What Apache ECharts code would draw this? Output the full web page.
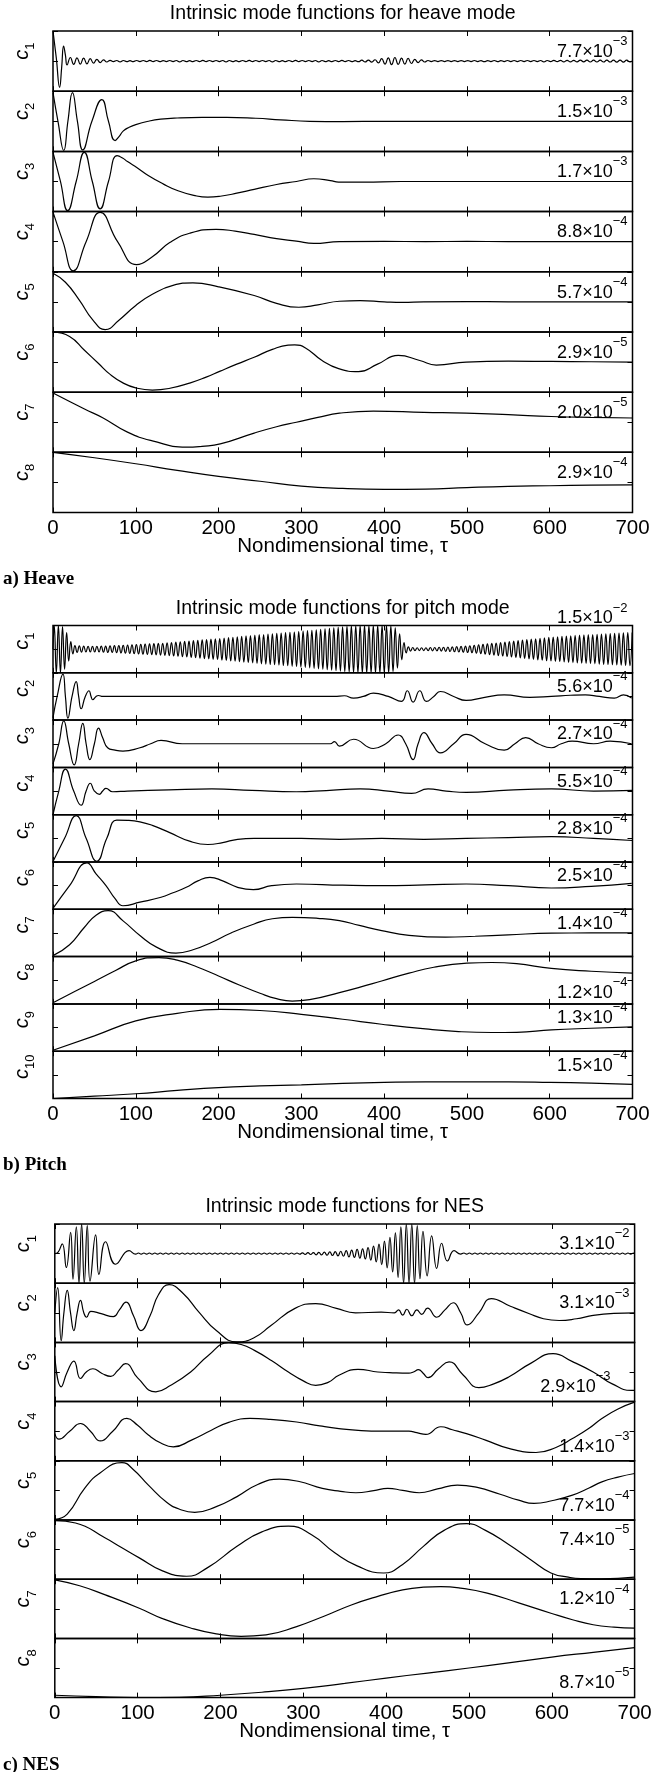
<!DOCTYPE html>
<html>
<head>
<meta charset="utf-8">
<script src="https://cdn.jsdelivr.net/npm/echarts@6/dist/echarts.min.js"></script>
<style>
  html, body { margin: 0; padding: 0; background: #fff; }
  #chart { width: 665px; height: 1772px; }
</style>
</head>
<body>
<div id="chart"></div>
<script>
// ---------------------------------------------------------------------------
// Intrinsic mode functions c_k(τ) for heave, pitch and NES responses.
// Every curve is stored in units of its own row scale (±1 = the scale value
// printed in the row), as [τ, value] pairs; dense oscillations are stored as
// successive extrema taken at a fixed τ spacing.
// ---------------------------------------------------------------------------

const tauMin = 0, tauMax = 700, tauStep = 100;

// ---- row scales (half height of each row) ----
const heaveScale = [7.7e-3, 1.5e-3, 1.7e-3, 8.8e-4, 5.7e-4, 2.9e-5, 2.0e-5, 2.9e-4];
const pitchScale = [1.5e-2, 5.6e-4, 2.7e-4, 5.5e-4, 2.8e-4, 2.5e-4, 1.4e-4, 1.2e-4, 1.3e-4, 1.5e-4];
const nesScale   = [3.1e-2, 3.1e-3, 2.9e-3, 1.4e-3, 7.7e-4, 7.4e-5, 1.2e-4, 8.7e-5];

// ---- heave ----
const heaveC1Head = [[0,1],[4,0.1],[8,-0.87],[10.5,-0.2],[12.8,0.5],[15,0.2],[17,-0.13]];
const heaveC1RippleStart = 21, heaveC1RippleStep = 4;
const heaveC1Ripple = [
  0.12,-0.11,0.11,-0.1,0.1,-0.09,0.08,-0.07,0.06,-0.05,0.04,-0.03,
  0.025,-0.02,0.02,-0.025,0.02,-0.02,0.015,-0.02,0.02,-0.015,
  0.02,-0.02,0.025,-0.02,0.02,-0.02,0.015,-0.015,0.02,-0.02,
  0.02,-0.025,0.02,-0.02,0.015,-0.02,0.02,-0.02,0.025,-0.02,
  0.02,-0.015,0.02,-0.02,0.02,-0.025,0.02,-0.02,0.015,-0.02,
  0.02,-0.02,0.025,-0.02,0.02,-0.015,0.02,-0.02,0.02,-0.025,
  0.02,-0.02,0.015,-0.02,0.02,-0.02,0.025,-0.02,0.02,-0.015,
  0.02,-0.02,0.02,-0.025,0.02,-0.02,0.015,-0.02,0.02,-0.02,
  0.025,-0.02,0.02,-0.02,0.015,-0.02,0.03,-0.03,0.035,-0.035,
  0.045,-0.06,0.08,-0.1,0.11,-0.12,0.12,-0.11,0.1,-0.1,0.09,-0.08,0.06,-0.05,0.04,-0.03,0.02,-0.015,
  0.015,-0.015,0.015,-0.015,0.015,-0.015,0.015,-0.015,0.015,-0.015,
  0.015,-0.015,0.02,-0.015,0.015,-0.02,0.015,-0.015,0.02,-0.02,
  0.015,-0.015,0.02,-0.02,0.02,-0.015,0.02,-0.02,0.02,-0.02,
  0.02,-0.02,0.02,-0.025,0.02,-0.02,0.025,-0.02,0.025,-0.025,
  0.025,-0.025,0.025,-0.025,0.03,-0.025,0.03,-0.03,0.03,-0.03,
  0.03,-0.03,0.035,-0.03,0.035,-0.035,0.035,-0.035,0.03,-0.03
];
const heaveC2 = [[0,0.95],[6,0],[13,-0.97],[18,0],[23.5,0.95],[29.5,0],[36,-0.95],[47,0],[59,0.72],[67,0],[75,-0.64],[80,-0.5],[85,-0.32],[92,-0.2],[100,-0.11],[115,0],[130,0.07],[150,0.11],[180,0.13],[210,0.13],[245,0.1],[275,0.05],[310,0],[350,-0.01],[400,0],[450,0],[500,0],[550,0],[600,0],[650,0],[700,0]];
const heaveC3 = [[0,0.97],[9,0],[17.7,-0.97],[28,0],[37.8,0.97],[47.5,0],[57,-0.91],[67,0],[77.5,0.86],[84,0.78],[90,0.66],[102,0.45],[115,0.2],[133,-0.08],[151,-0.31],[170,-0.46],[187,-0.52],[202,-0.49],[222,-0.39],[243,-0.26],[270,-0.1],[294,0],[315,0.09],[335,0.03],[345,-0.02],[376,-0.02],[420,0],[500,0],[600,0],[700,0]];
const heaveC4 = [[0,0.98],[12,0],[24.5,-0.97],[40,0],[57,0.97],[78,0],[101,-0.76],[120,-0.5],[141,-0.03],[165,0.28],[197,0.41],[220,0.35],[243,0.24],[270,0.1],[294,0.02],[315,-0.06],[346,0],[400,0.01],[450,0],[500,0.01],[550,0],[600,0],[700,0]];
const heaveC5 = [[0,0.95],[15,0.65],[32,0.05],[48,-0.6],[63,-0.92],[80,-0.6],[100,-0.12],[120,0.25],[145,0.55],[169,0.63],[200,0.5],[243,0.21],[270,-0.05],[297,-0.18],[320,-0.1],[346,0.02],[371,0.04],[400,0],[422,-0.02],[448,0],[500,0.01],[550,0],[600,0],[650,0],[700,0]];
const heaveC6 = [[0,1],[20,0.85],[38,0.39],[55,-0.05],[69,-0.41],[85,-0.7],[100,-0.86],[120,-0.93],[140,-0.88],[166,-0.69],[185,-0.5],[202,-0.3],[222,-0.07],[243,0.16],[265,0.42],[284,0.56],[292,0.57],[305,0.47],[325,0.05],[345,-0.22],[369,-0.32],[392,-0.07],[417,0.22],[443,0.05],[463,-0.1],[499,0],[550,0.03],[602,0.02],[650,0.01],[700,0]];
const heaveC7 = [[0,0.97],[38,0.44],[60,0.15],[90,-0.33],[120,-0.62],[161,-0.83],[180,-0.8],[202,-0.72],[243,-0.36],[270,-0.15],[294,0],[320,0.16],[346,0.3],[387,0.37],[448,0.33],[499,0.3],[550,0.25],[602,0.19],[650,0.16],[700,0.14]];
const heaveC8 = [[0,1],[50,0.82],[100,0.62],[150,0.4],[200,0.2],[250,0.04],[300,-0.12],[350,-0.2],[400,-0.23],[450,-0.22],[500,-0.17],[550,-0.13],[600,-0.11],[650,-0.09],[700,-0.08]];

// ---- pitch ----
const pitchC1Head = [[0,0],[1.5,1],[4,-1],[6.5,1],[9,-1],[11.5,0.95],[14,-0.85],[16.5,0.7],[19,-0.5],[21.5,0.32],[24,-0.2]];
const pitchC1RippleStart = 26.5, pitchC1RippleStep = 2.65;
const pitchC1Ripple = [
  0.15,-0.14,0.14,-0.13,0.13,-0.12,0.12,-0.12,0.12,-0.12,
  0.12,-0.12,0.13,-0.13,0.13,-0.14,0.14,-0.14,0.15,-0.15,
  0.15,-0.16,0.16,-0.17,0.17,-0.18,0.18,-0.19,0.19,-0.2,
  0.2,-0.21,0.21,-0.22,0.22,-0.23,0.23,-0.24,0.24,-0.25,
  0.25,-0.26,0.27,-0.27,0.28,-0.29,0.3,-0.3,0.31,-0.32,
  0.33,-0.33,0.34,-0.35,0.36,-0.36,0.37,-0.38,0.39,-0.4,
  0.4,-0.41,0.42,-0.43,0.44,-0.44,0.45,-0.46,0.47,-0.48,
  0.49,-0.5,0.5,-0.51,0.52,-0.53,0.54,-0.55,0.56,-0.57,
  0.57,-0.58,0.59,-0.6,0.61,-0.62,0.62,-0.63,0.64,-0.65,
  0.65,-0.66,0.67,-0.67,0.68,-0.69,0.7,-0.7,0.71,-0.72,
  0.72,-0.73,0.74,-0.75,0.76,-0.77,0.78,-0.79,0.8,-0.81,
  0.82,-0.83,0.84,-0.85,0.86,-0.87,0.88,-0.89,0.9,-0.91,
  0.92,-0.93,0.94,-0.95,0.96,-0.97,0.98,-0.98,0.99,-0.99,
  1,-1,1,-1,1,-1,1,-1,1,-1,
  1,-1,1,-1,0.98,-0.95,0.9,-0.8,0.65,-0.45,
  0.28,-0.16,0.1,-0.08,0.07,-0.06,0.06,-0.06,0.06,-0.06,
  0.06,-0.06,0.07,-0.07,0.07,-0.07,0.08,-0.08,0.08,-0.09,
  0.09,-0.1,0.1,-0.11,0.11,-0.12,0.12,-0.13,0.13,-0.14,
  0.14,-0.15,0.16,-0.17,0.18,-0.19,0.2,-0.21,0.22,-0.23,
  0.24,-0.25,0.26,-0.27,0.28,-0.29,0.3,-0.31,0.32,-0.33,
  0.34,-0.35,0.36,-0.37,0.38,-0.39,0.4,-0.41,0.42,-0.43,
  0.44,-0.45,0.46,-0.47,0.48,-0.49,0.5,-0.5,0.51,-0.52,
  0.52,-0.53,0.54,-0.54,0.55,-0.56,0.56,-0.57,0.58,-0.58,
  0.59,-0.59,0.6,-0.6,0.61,-0.61,0.62,-0.62,0.63,-0.63,
  0.64,-0.64,0.65,-0.65,0.66,-0.66,0.67,-0.67,0.68,-0.68,
  0.69,-0.69,0.7,-0.7,0.7
];
const pitchC2 = [[0,-0.9],[5,0],[12,0.94],[15,0],[18,-0.92],[23,0],[28,0.63],[31,0],[34,-0.52],[39,0],[43.5,0.24],[46,0],[48,-0.14],[52,0],[55,0.04],[60,0],[100,0],[200,0],[300,0],[340,0],[352,0.03],[363,-0.07],[375,0],[387,0.14],[405,0],[421,-0.21],[428,0.24],[435,-0.24],[443,0.24],[451,-0.21],[460,0],[468,0.21],[484,0],[499,-0.17],[520,-0.05],[545,0.07],[576,-0.04],[602,0],[625,0.05],[643,0.07],[660,0],[678,-0.07],[689,0.07],[699,-0.07]];
const pitchC3 = [[0,-0.85],[7,0],[13,0.97],[19,0],[25.6,-0.89],[31,0],[36,0.86],[40,0],[44.5,-0.67],[50,0],[55,0.66],[60,0.25],[66,-0.17],[75,-0.27],[84.5,-0.31],[105,-0.17],[118,0],[130.5,0.14],[156,0],[200,0],[250,0],[300,0],[335,0],[340,0.09],[346,-0.1],[363,0.19],[387,-0.2],[402,0],[417,0.37],[426,0],[435,-0.67],[441,0],[448,0.47],[458,0],[468,-0.39],[484,0],[499,0.4],[522,0],[545,-0.27],[558,0],[571,0.26],[586,0],[602,-0.17],[614,0],[627,0.11],[653,0],[673,0.11],[699,0]];
const pitchC4 = [[0,-1],[7,0],[15,0.93],[25,0],[34,-0.6],[40,0],[45,0.33],[50,0],[56,-0.14],[60,0],[64,0.11],[72,-0.03],[90,0],[140,0.05],[192,0.09],[240,0.03],[294,-0.03],[330,0.02],[371,0.09],[405,0],[433,-0.1],[453,0.09],[475,0],[499,-0.06],[550,0.04],[602,0.09],[653,0],[700,0.03]];
const pitchC5 = [[0,-0.98],[14,0],[28,0.96],[40,0],[53,-0.97],[65,0],[77,0.77],[90,0.76],[105,0.7],[120,0.55],[141,0.24],[165,-0.12],[187,-0.26],[205,-0.18],[223,-0.04],[243,0],[300,0],[346,-0.04],[397,0],[448,-0.04],[499,0],[550,0.03],[602,0.07],[653,0],[700,-0.09]];
const pitchC6 = [[0,-0.96],[20,0],[41,0.96],[52,0.5],[64,0],[75,-0.55],[84.5,-0.85],[105,-0.7],[130.5,-0.49],[145,-0.3],[161,-0.07],[175,0.2],[189.5,0.35],[205,0.2],[223,-0.07],[242,-0.17],[264,0],[294,0.07],[350,0.02],[397,0],[450,0.03],[499,0.07],[550,0],[602,-0.1],[650,-0.03],[699,0.1]];
const pitchC7 = [[0,-0.96],[20,-0.5],[38,0.24],[52,0.75],[66.5,0.94],[85,0.5],[105,-0.11],[125,-0.6],[148.5,-0.85],[170,-0.7],[192,-0.39],[215,0],[243,0.38],[265,0.6],[289,0.66],[320,0.62],[346,0.52],[370,0.32],[397,0.1],[430,-0.1],[474,-0.18],[510,-0.14],[550,-0.08],[602,-0.01],[650,0],[700,0]];
const pitchC8 = [[0,-0.95],[25,-0.5],[50,-0.05],[75,0.4],[100,0.82],[128,0.96],[150,0.85],[175,0.55],[200,0.18],[225,-0.2],[250,-0.55],[270,-0.78],[289,-0.88],[310,-0.82],[346,-0.52],[370,-0.3],[397,-0.03],[430,0.3],[460,0.55],[500,0.72],[530,0.75],[560,0.7],[602,0.5],[650,0.38],[700,0.3]];
const pitchC9 = [[0,-0.96],[50,-0.35],[100,0.28],[150,0.6],[202,0.77],[250,0.72],[300,0.56],[350,0.35],[397,0.14],[450,-0.06],[490,-0.17],[530,-0.21],[560,-0.2],[602,-0.1],[650,-0.03],[700,0.03]];
const pitchC10 = [[0,-1],[50,-0.9],[100,-0.8],[150,-0.66],[200,-0.54],[250,-0.47],[300,-0.42],[350,-0.36],[400,-0.32],[450,-0.3],[500,-0.3],[550,-0.3],[600,-0.32],[650,-0.35],[700,-0.4]];

// ---- NES ----
const nesC1Head = [[0,0],[4,0.05],[9,0.33],[13.9,-0.47],[19.1,0.72],[22,-0.86],[26,0.9],[29.2,-1],[32.4,1],[35.6,-1],[39.2,0.95],[42.5,-0.93],[49.3,0.63],[53.3,-0.7],[61.3,0.4],[73.4,-0.36],[89.6,0.1],[97.6,-0.02]];
const nesC1BurstStart = 101, nesC1BurstStep = 3.3;
const nesC1Burst = [
  0.02,-0.02,0.02,-0.02,0.02,-0.02,0.02,-0.02,0.02,-0.02,
  0.02,-0.02,0.02,-0.02,0.02,-0.02,0.02,-0.02,0.02,-0.02,
  0.02,-0.02,0.02,-0.02,0.02,-0.02,0.02,-0.02,0.02,-0.02,
  0.02,-0.02,0.02,-0.02,0.02,-0.02,0.02,-0.02,0.02,-0.02,
  0.02,-0.02,0.02,-0.02,0.02,-0.02,0.02,-0.02,0.02,-0.02,
  0.02,-0.02,0.02,-0.02,0.02,-0.02,0.02,-0.02,
  0.02,-0.02,0.025,-0.025,0.03,-0.03,0.035,-0.04,0.04,-0.045,
  0.05,-0.055,0.06,-0.065,0.07,-0.075,0.08,-0.09,0.1,-0.11,
  0.12,-0.13,0.14,-0.15,0.16,-0.18,0.2,-0.22,0.25,-0.28,
  0.32,-0.37,0.42,-0.48,0.55,-0.62,0.7,-0.8,0.9,-1,
  1,-1,1,-1,0.95,-0.85
];
const nesC1Decay = [[444.5,0.75],[449.5,-0.75],[455,0.6],[461,-0.5],[467,0.35],[474,-0.25],[482,0.1],[490,-0.02]];
const nesC1TailStart = 494, nesC1TailStep = 3.3;
const nesC1Tail = [
  0.02,-0.02,0.02,-0.02,0.02,-0.02,0.02,-0.02,0.02,-0.02,
  0.02,-0.02,0.02,-0.02,0.02,-0.02,0.02,-0.02,0.02,-0.02,
  0.02,-0.02,0.02,-0.02,0.02,-0.02,0.02,-0.02,0.02,-0.02,
  0.02,-0.02,0.02,-0.02,0.02,-0.02,0.02,-0.02,0.02,-0.02,
  0.02,-0.02,0.02,-0.02,0.02,-0.02,0.02,-0.02,0.02,-0.02,
  0.02,-0.02,0.02,-0.02,0.02,-0.02,0.02,-0.02,0.02,-0.02,
  0.02,-0.02,0.02
];
const nesC2 = [[0,0],[3.5,0.85],[7.7,-0.94],[11,0],[15,0.76],[19,0],[23,-0.6],[27,0],[31,0.42],[35,0],[38.4,-0.15],[43.5,0.05],[56,-0.03],[70.7,-0.13],[78,0.1],[86,0.36],[95,-0.1],[104,-0.6],[115,-0.1],[125,0.6],[138,0.95],[155,0.65],[174,0.02],[195,-0.6],[220,-0.98],[240,-0.85],[261,-0.43],[290,0.15],[315,0.31],[340,0.15],[363,0],[394,0.02],[410,0],[415,0.1],[420,-0.08],[425,0.12],[431,-0.1],[437,0.1],[443,-0.05],[450,0.16],[461,-0.15],[471,0.1],[481,0.34],[490,0],[498,-0.41],[512,0],[527,0.48],[550,0.22],[573,-0.03],[590,-0.2],[609,-0.26],[630,-0.2],[650,-0.09],[675,-0.02],[700,0]];
const nesC3 = [[0,0.55],[7.7,-0.5],[15,0],[23,0.37],[31,-0.22],[38,0],[46,0.11],[57,-0.05],[67.6,-0.15],[76,0.05],[85.5,0.28],[100,-0.2],[122,-0.67],[140,-0.45],[164,0],[185,0.55],[210,0.99],[225,0.93],[241,0.73],[262,0.38],[282,0],[300,-0.3],[315,-0.45],[330,-0.35],[343,-0.11],[366,0.09],[390,0],[404,-0.02],[427.5,-0.04],[433,0],[439,0.08],[445,-0.05],[450.6,-0.19],[463,0.1],[476,0.34],[493,-0.1],[512,-0.53],[530,-0.4],[548,-0.17],[575,0.3],[601.6,0.62],[625,0.35],[650,0],[673,-0.4],[696,-0.62],[700,-0.62]];
const nesC4 = [[0,-0.08],[5,-0.27],[18,0],[31,0.26],[43,0],[55,-0.33],[70,0],[87,0.43],[100,0.2],[113,-0.13],[128,-0.4],[143,-0.53],[165,-0.3],[189,0.03],[210,0.3],[235.5,0.43],[260,0.4],[292,0.31],[320,0.18],[343,0.09],[370,0.02],[394,0],[427.5,0],[437,-0.05],[448,-0.11],[466,0.15],[480,0.05],[497,-0.08],[520,-0.3],[548,-0.58],[581,-0.72],[605,-0.55],[625,-0.25],[645,0.1],[660.5,0.43],[680,0.75],[700,0.98]];
const nesC5 = [[0,-0.98],[15,-0.8],[36,0.07],[55,0.6],[81,0.94],[95,0.7],[113,0.18],[135,-0.4],[150,-0.63],[169,-0.74],[195,-0.55],[220,-0.21],[245,0.2],[271,0.38],[295,0.3],[323,0.07],[345,-0.03],[363.5,-0.08],[385,-0.01],[402,0.07],[420,0],[440,-0.08],[462,0.05],[486,0.18],[510,0.1],[537.6,-0.13],[560,-0.33],[578.6,-0.44],[600,-0.35],[625,-0.16],[645,0.08],[660.5,0.29],[680,0.45],[700,0.57]];
const nesC6 = [[0,0.98],[25,0.9],[61,0.39],[80,0.08],[102,-0.28],[130,-0.72],[159,-0.9],[185,-0.6],[220,0.11],[250,0.6],[282,0.79],[310,0.5],[338,-0.11],[365,-0.55],[397,-0.79],[420,-0.5],[445,0.11],[470,0.65],[497,0.88],[520,0.65],[548,0.17],[575,-0.35],[599,-0.79],[620,-0.93],[635,-0.98],[660,-0.99],[700,-0.93]];
const nesC7 = [[0,0.98],[30,0.78],[61,0.47],[102,0.02],[130,-0.33],[164,-0.65],[195,-0.85],[225,-0.93],[255,-0.88],[292,-0.6],[325,-0.25],[358,0.13],[390,0.42],[420,0.64],[445,0.73],[466,0.75],[490,0.7],[522,0.53],[560,0.2],[599,-0.15],[625,-0.37],[650,-0.54],[675,-0.62],[700,-0.65]];
const nesC8 = [[0,-0.92],[50,-0.97],[100,-1],[150,-0.99],[200,-0.92],[250,-0.82],[300,-0.69],[350,-0.52],[400,-0.34],[450,-0.17],[500,0],[550,0.18],[600,0.37],[650,0.53],[700,0.69]];

// ---- texts ----
const heaveTitle = 'Intrinsic mode functions for heave mode';
const pitchTitle = 'Intrinsic mode functions for pitch mode';
const nesTitle = 'Intrinsic mode functions for NES';
const xTitle = 'Nondimensional time, \u03c4';
const heaveTag = 'a) Heave', pitchTag = 'b) Pitch', nesTag = 'c) NES';

// ---------------------------------------------------------------------------
// assembly
// ---------------------------------------------------------------------------
function extrema(start, step, values) {
  return values.map((v, i) => [start + i * step, v]);
}

const heaveC1 = heaveC1Head.concat(extrema(heaveC1RippleStart, heaveC1RippleStep, heaveC1Ripple), [[700, 0]]);
const pitchC1 = pitchC1Head.concat(extrema(pitchC1RippleStart, pitchC1RippleStep, pitchC1Ripple));
const nesC1 = nesC1Head.concat(extrema(nesC1BurstStart, nesC1BurstStep, nesC1Burst), nesC1Decay,
                               extrema(nesC1TailStart, nesC1TailStep, nesC1Tail), [[700, 0]]);

const SANS = '"Liberation Sans", Arial, Helvetica, sans-serif';
const SERIF = '"Liberation Serif", "Times New Roman", serif';

const panels = [
  { title: heaveTitle, tag: heaveTag, scales: heaveScale,
    curves: [heaveC1, heaveC2, heaveC3, heaveC4, heaveC5, heaveC6, heaveC7, heaveC8],
    place: ['top','top','top','top','top','top','top','top'],
    shift: [0,0,0,0,0,0,0,0],
    left: 53, width: 579.5, top: 31, rowH: 60.19 },
  { title: pitchTitle, tag: pitchTag, scales: pitchScale,
    curves: [pitchC1, pitchC2, pitchC3, pitchC4, pitchC5, pitchC6, pitchC7, pitchC8, pitchC9, pitchC10],
    place: ['above','top','top','top','top','top','top','bottom','top','top'],
    shift: [0,0,0,0,0,0,0,0,0,0],
    left: 53, width: 579.5, top: 625.5, rowH: 47.3 },
  { title: nesTitle, tag: nesTag, scales: nesScale,
    curves: [nesC1, nesC2, nesC3, nesC4, nesC5, nesC6, nesC7, nesC8],
    place: ['top','top','bottom','bottom','bottom','top','top','bottom'],
    shift: [0,0,19,0,0,0,0,0],
    left: 54.8, width: 579.8, top: 1224, rowH: 59.2 }
];

function scaleText(a) {
  const e = Math.floor(Math.log10(a) + 1e-9);
  const m = (a / Math.pow(10, e)).toFixed(1);
  return '{m|' + m + '\u00d710}{e|\u2212' + Math.abs(e) + '}';
}

const tickStyle = { inside: true, length: 5, lineStyle: { color: '#000', width: 1 } };
const rowNameRich = {
  c: { fontSize: 20, fontStyle: 'italic', fontFamily: SANS, lineHeight: 30, color: '#000' },
  s: { fontSize: 13, fontFamily: SANS, lineHeight: 15, verticalAlign: 'bottom', color: '#000' }
};
const grid = [], xAxis = [], yAxis = [], series = [], graphic = [];

panels.forEach(p => {
  const n = p.curves.length;
  const bottom = p.top + n * p.rowH;
  const cx = p.left + p.width / 2;

  graphic.push({ type: 'text', x: cx, y: p.top - 17, silent: true,
    style: { text: p.title, fontSize: 19.5, fontFamily: SANS, fill: '#000',
             align: 'center', verticalAlign: 'middle', textAlign: 'center', textVerticalAlign: 'middle' } });
  graphic.push({ type: 'text', x: cx, y: bottom + 34, silent: true,
    style: { text: xTitle, fontSize: 20.5, fontFamily: SANS, fill: '#000',
             align: 'center', verticalAlign: 'middle', textAlign: 'center', textVerticalAlign: 'middle' } });
  graphic.push({ type: 'text', x: 3, y: bottom + 67, silent: true,
    style: { text: p.tag, fontSize: 19, fontWeight: 'bold', fontFamily: SERIF, fill: '#000',
             align: 'left', verticalAlign: 'middle', textAlign: 'left', textVerticalAlign: 'middle' } });

  p.curves.forEach((curve, r) => {
    const gi = grid.length;
    const top = p.top + r * p.rowH;
    const a = p.scales[r];
    const last = r === n - 1;

    grid.push({ left: p.left, top: top, width: p.width, height: p.rowH,
                show: true, borderColor: '#000', borderWidth: 1.5, backgroundColor: 'transparent' });

    const xCommon = { gridIndex: gi, type: 'value', min: tauMin, max: tauMax, interval: tauStep,
                      axisLine: { show: false, onZero: false }, axisTick: tickStyle, splitLine: { show: false } };
    xAxis.push(Object.assign({}, xCommon, { position: 'bottom',
      axisLabel: { show: last, margin: 5, color: '#000', fontSize: 20.5, fontFamily: SANS } }));
    xAxis.push(Object.assign({}, xCommon, { position: 'top', axisLabel: { show: false } }));

    const yCommon = { gridIndex: gi, type: 'value', min: -a, max: a, interval: a,
                      axisLine: { show: false, onZero: false }, axisTick: tickStyle,
                      splitLine: { show: false }, axisLabel: { show: false } };
    // left axis carries the row name c_k, written upward
    yAxis.push(Object.assign({}, yCommon, { position: 'left',
      name: '{c|c}{s|' + (r + 1) + '}', nameLocation: 'middle', nameRotate: 90, nameGap: 16,
      nameTextStyle: { rich: rowNameRich, padding: [0, 0, 0, Math.round(0.34 * p.rowH)] } }));
    yAxis.push(Object.assign({}, yCommon, { position: 'right' }));

    series.push({ type: 'line', xAxisIndex: 2 * gi, yAxisIndex: 2 * gi,
      data: curve.map(([t, v]) => [t, v * a]),
      showSymbol: false, symbol: 'none', smooth: 0.5, clip: true, silent: true,
      lineStyle: { color: '#000', width: 1.2 }, animation: false });

    // row scale
    let ly;
    if (p.place[r] === 'above') ly = top - 7;
    else if (p.place[r] === 'bottom') ly = top + p.rowH * 0.76;
    else ly = top + p.rowH / 2 - 9.3;
    graphic.push({ type: 'text', x: p.left + p.width - 5 - p.shift[r], y: ly, silent: true,
      style: { text: scaleText(a), fill: '#000', align: 'right', verticalAlign: 'middle',
               textAlign: 'right', textVerticalAlign: 'middle',
               rich: { m: { fontSize: 18, fontFamily: SANS, lineHeight: 34, fill: '#000' },
                       e: { fontSize: 13, fontFamily: SANS, lineHeight: 13, verticalAlign: 'top', fill: '#000' } } } });
  });
});

const chart = echarts.init(document.getElementById('chart'), null, { renderer: 'canvas' });
chart.setOption({
  animation: false,
  backgroundColor: '#fff',
  grid: grid, xAxis: xAxis, yAxis: yAxis, series: series, graphic: graphic
});
</script>
</body>
</html>
